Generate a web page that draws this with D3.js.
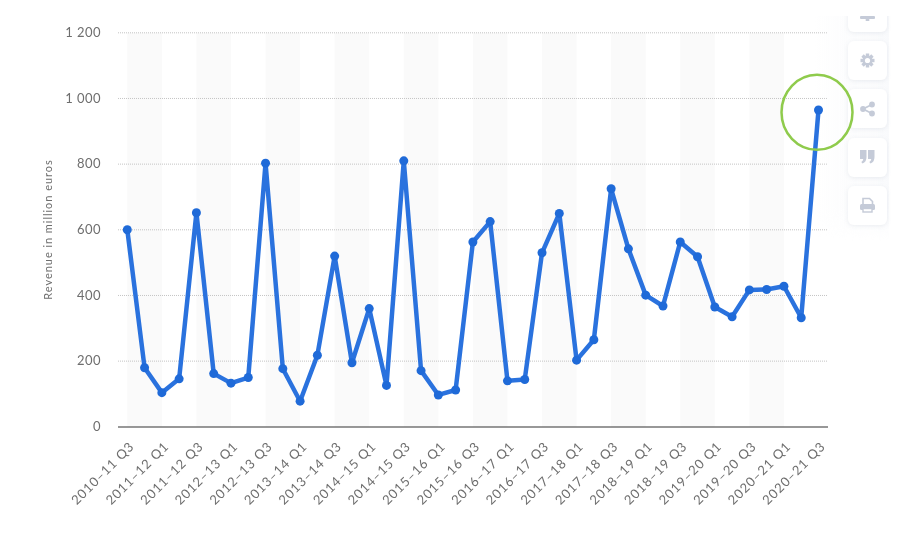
<!DOCTYPE html>
<html>
<head>
<meta charset="utf-8">
<script src="https://cdnjs.cloudflare.com/ajax/libs/d3/7.8.5/d3.min.js"></script>
<style>
html,body{margin:0;padding:0;background:#fff}
svg{display:block}
text{font-family:"Lato",sans-serif}
</style>
</head>
<body>
<div id="chart"></div>
<script>
const tickLabels = ["2010–11 Q3","2011–12 Q1","2011–12 Q3","2012–13 Q1","2012–13 Q3","2013–14 Q1","2013–14 Q3","2014–15 Q1","2014–15 Q3","2015–16 Q1","2015–16 Q3","2016–17 Q1","2016–17 Q3","2017–18 Q1","2017–18 Q3","2018–19 Q1","2018–19 Q3","2019–20 Q1","2019–20 Q3","2020–21 Q1","2020–21 Q3"];
const revenue = [600,180,104,146,652,162,133,150,803,177,78,218,520,195,360,126,810,171,97,112,563,625,140,144,530,650,203,265,725,542,401,368,563,518,365,335,417,418,428,332,965];
const yTicks = [0,200,400,600,800,1000,1200];
const yTitle = "Revenue in million euros";

const W = 910, H = 548;
const textColor = "#6e6e6e";
const svg = d3.select("#chart").append("svg").attr("width",W).attr("height",H);
const defs = svg.append("defs");
const grad = defs.append("linearGradient").attr("id","panel");
grad.append("stop").attr("offset","0").attr("stop-color","#f9fafc").attr("stop-opacity",0);
grad.append("stop").attr("offset","1").attr("stop-color","#f9fafc").attr("stop-opacity",1);
const fade = defs.append("linearGradient").attr("id","fadeV").attr("x1",0).attr("x2",0).attr("y1",0).attr("y2",1);
fade.append("stop").attr("offset","0.85").attr("stop-color","#fff");
fade.append("stop").attr("offset","1").attr("stop-color","#000");
defs.append("mask").attr("id","panelMask").attr("maskUnits","userSpaceOnUse").attr("x",0).attr("y",0).attr("width",W).attr("height",H)
  .append("rect").attr("x",815).attr("y",16).attr("width",74).attr("height",225).attr("fill","url(#fadeV)");
const shadow = defs.append("filter").attr("id","btnShadow").attr("x","-20%").attr("y","-20%").attr("width","140%").attr("height","140%");
shadow.append("feDropShadow").attr("dx",0).attr("dy",1).attr("stdDeviation",2).attr("flood-color","#8a94a8").attr("flood-opacity",0.16);
defs.append("filter").attr("id","soft").attr("x","-5%").attr("y","-5%").attr("width","110%").attr("height","110%")
  .append("feGaussianBlur").attr("stdDeviation",0.35);

const x = d3.scalePoint().domain(d3.range(revenue.length)).range([127.3,818.5]);
const step = x.step();
const y = d3.scaleLinear().domain([0,1200]).range([426.8,32.8]);

const bandIdx = d3.range(0,revenue.length-1,4);
svg.append("g").selectAll("rect").data(bandIdx).join("rect")
  .attr("x",d=>x(d)).attr("width",step*2).attr("y",y(1200)).attr("height",y(0)-y(1200)).attr("fill","#fafafa");

svg.append("g").selectAll("line").data(yTicks.filter(d=>d>0)).join("line")
  .attr("x1",118).attr("x2",828).attr("y1",d=>y(d)).attr("y2",d=>y(d))
  .attr("stroke","#c4c4c4").attr("stroke-dasharray","1 1");

svg.append("rect").attr("x",815).attr("y",16).attr("width",74).attr("height",225).attr("fill","url(#panel)").attr("mask","url(#panelMask)");

const yAxis = d3.axisLeft(y).tickValues(yTicks).tickSize(0).tickPadding(0)
  .tickFormat(d=>d3.format(",")(d).replace(",", " "));
const gy = svg.append("g").attr("transform","translate(101,-0.4)").attr("filter","url(#soft)").call(yAxis);
gy.select(".domain").remove();
gy.selectAll("text").attr("fill",textColor).attr("font-size",13).attr("letter-spacing",0.45);

const xAxis = d3.axisBottom(x).tickValues(d3.range(0,revenue.length,2)).tickSize(0)
  .tickFormat(d=>tickLabels[d/2]);
const gx = svg.append("g").attr("transform","translate(0,427)").attr("filter","url(#soft)").call(xAxis);
gx.select(".domain").remove();
gx.selectAll("text").attr("fill",textColor).attr("font-size",13).attr("letter-spacing",0.85).attr("text-anchor","end")
  .attr("transform","translate(4,17) rotate(-45)").attr("dy","0.35em").attr("y",0).attr("x",0);
svg.append("line").attr("x1",118).attr("x2",828).attr("y1",427).attr("y2",427).attr("stroke","#333").attr("stroke-width",1.2);

svg.append("g").attr("filter","url(#soft)").append("text").attr("transform","translate(52,229.5) rotate(-90)").attr("text-anchor","middle")
  .attr("fill",textColor).attr("font-size",11).attr("letter-spacing",0.95).text(yTitle);

const line = d3.line().x((d,i)=>x(i)).y(d=>y(d));
svg.append("path").datum(revenue).attr("d",line).attr("fill","none").attr("stroke","#2a72de").attr("stroke-width",4.5).attr("stroke-linejoin","round");
svg.append("g").selectAll("circle").data(revenue).join("circle")
  .attr("cx",(d,i)=>x(i)).attr("cy",d=>y(d)).attr("r",4.5).attr("fill","#1f6ad8");

// toolbar
const btnTops = [-7,41,89,138,186];
const clip = defs.append("clipPath").attr("id","tb");
clip.append("rect").attr("x",840).attr("y",16).attr("width",60).attr("height",230);
const tb = svg.append("g").attr("clip-path","url(#tb)");
tb.selectAll("rect").data(btnTops).join("rect").attr("x",848).attr("y",d=>d).attr("width",39).attr("height",39).attr("rx",6)
  .attr("fill","#fff").attr("filter","url(#btnShadow)");
const ic = "#c5cbd8";
const icons = svg.append("g").attr("filter","url(#soft)");
icons.append("rect").attr("x",860).attr("y",16).attr("width",15).attr("height",3).attr("rx",1).attr("fill",ic);
icons.append("rect").attr("x",865.7).attr("y",16).attr("width",3.6).attr("height",5).attr("fill",ic);
const gear = icons.append("g").attr("transform","translate(867.5,60.5)");
gear.selectAll("rect").data(d3.range(0,180,45)).join("rect").attr("x",-1.7).attr("y",-7).attr("width",3.4).attr("height",14).attr("fill",ic).attr("transform",d=>`rotate(${d})`);
gear.append("circle").attr("r",5).attr("fill",ic);
gear.append("circle").attr("r",2.6).attr("fill","#fff");
const sh = icons.append("g").attr("transform","translate(867.5,109)");
const shPts = [[4.5,-4.5],[-4.5,0],[4.5,4.5]];
sh.append("polyline").attr("points",shPts.join(" ")).attr("fill","none").attr("stroke",ic).attr("stroke-width",1.8);
sh.selectAll("circle").data(shPts).join("circle").attr("cx",d=>d[0]).attr("cy",d=>d[1]).attr("r",2.9).attr("fill",ic);
const q = icons.append("g").attr("transform","translate(867.5,156.5)").attr("fill",ic);
q.selectAll("path").data([-7.5,0.5]).join("path")
  .attr("d","M0 -6.5 h6.5 v7 q0 5 -4 6.5 l-1.2 -1.6 q1.8 -1 2 -3 h-3.3 z")
  .attr("transform",d=>`translate(${d},0)`);
const pr = icons.append("g").attr("transform","translate(867.5,205.5)").attr("fill",ic);
pr.append("path").attr("d","M-4.5 -1 v-6 h6.5 l3 3 v3").attr("fill","none").attr("stroke",ic).attr("stroke-width",1.6);
pr.append("rect").attr("x",-7.5).attr("y",-1.5).attr("width",15).attr("height",6).attr("rx",1.5);
pr.append("rect").attr("x",-4.5).attr("y",3).attr("width",9).attr("height",3.5).attr("fill","#fff").attr("stroke",ic).attr("stroke-width",1.4);

svg.append("ellipse").attr("cx",817).attr("cy",112.3).attr("rx",35.5).attr("ry",37.5)
  .attr("fill","none").attr("stroke","#8fcb4c").attr("stroke-width",2.5);
</script>
</body>
</html>
